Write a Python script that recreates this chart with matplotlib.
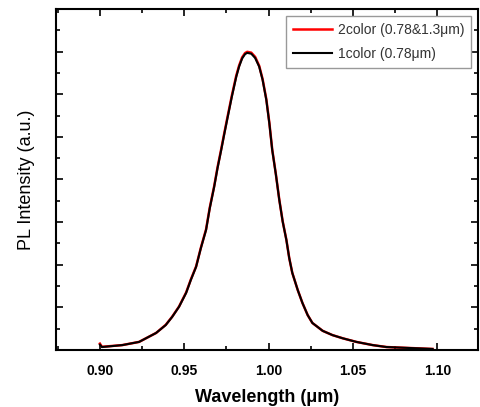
import matplotlib.pyplot as plt
from matplotlib.ticker import MultipleLocator, FormatStrFormatter

# values
wavelength = [0.9000, 0.9012, 0.9132, 0.9232, 0.9333, 0.9390, 0.9428, 0.9469,
              0.9511, 0.9539, 0.9570, 0.9598, 0.9629, 0.9651, 0.9677, 0.9697,
              0.9719, 0.9736, 0.9754, 0.9782, 0.9808, 0.9825, 0.9843, 0.9860,
              0.9873, 0.9897, 0.9920, 0.9944, 0.9964, 0.9986, 1.0004, 1.0021,
              1.0043, 1.0063, 1.0083, 1.0105, 1.0122, 1.0140, 1.0172, 1.0200,
              1.0231, 1.0259, 1.0320, 1.0378, 1.0439, 1.0520, 1.0617, 1.0698,
              1.0971]
one_color = [0.25, 0.14, 0.23, 0.38, 0.80, 1.17, 1.55, 2.03,
             2.68, 3.29, 3.90, 4.77, 5.63, 6.65, 7.65, 8.53,
             9.39, 10.09, 10.80, 11.89, 12.82, 13.30, 13.68, 13.88,
             13.94, 13.90, 13.70, 13.29, 12.68, 11.74, 10.64, 9.39,
             8.22, 7.04, 6.03, 5.16, 4.31, 3.62, 2.82, 2.21,
             1.64, 1.27, 0.90, 0.70, 0.55, 0.38, 0.23, 0.14,
             0.05]
two_color = [0.30, 0.15, 0.23, 0.38, 0.80, 1.18, 1.56, 2.04,
             2.70, 3.31, 3.92, 4.79, 5.66, 6.68, 7.68, 8.57,
             9.43, 10.13, 10.85, 11.94, 12.87, 13.35, 13.73, 13.93,
             13.99, 13.95, 13.75, 13.33, 12.71, 11.77, 10.66, 9.41,
             8.23, 7.05, 6.04, 5.17, 4.31, 3.62, 2.82, 2.21,
             1.64, 1.27, 0.90, 0.70, 0.55, 0.38, 0.23, 0.14,
             0.05]

plt.rcParams['font.family'] = ['Liberation Sans', 'DejaVu Sans']

fig = plt.figure(figsize=(4.8, 4.07), dpi=100)
ax = fig.add_axes([0.1167, 0.140, 0.879, 0.838])

ax.plot(wavelength, two_color, color='red', lw=1.8, label='2color (0.78&1.3μm)')
ax.plot(wavelength, one_color, color='black', lw=1.5, label='1color (0.78μm)')

ax.set_xlim(0.874, 1.124)
ax.set_ylim(0, 16)

ax.xaxis.set_major_locator(MultipleLocator(0.05))
ax.xaxis.set_minor_locator(MultipleLocator(0.025))
ax.xaxis.set_major_formatter(FormatStrFormatter('%.2f'))
ax.yaxis.set_major_locator(MultipleLocator(2))
ax.yaxis.set_minor_locator(MultipleLocator(1))
ax.tick_params(which='both', direction='in', top=True, right=True, width=1.2)
ax.tick_params(which='major', length=5)
ax.tick_params(which='minor', length=3)
ax.tick_params(axis='y', labelleft=False)
ax.tick_params(axis='x', labelsize=10, pad=10)
for lab in ax.get_xticklabels():
    lab.set_fontweight('bold')
for s in ax.spines.values():
    s.set_linewidth(1.5)

ax.set_xlabel('Wavelength (μm)', fontsize=13, fontweight='bold', labelpad=8)
ax.set_ylabel('PL Intensity (a.u.)', fontsize=13, labelpad=12)

leg = ax.legend(loc='upper right', fontsize=10, fancybox=False, framealpha=1,
                edgecolor='#999999', handlelength=2.8, handletextpad=0.4,
                borderaxespad=0.5, labelspacing=0.7, borderpad=0.5,
                labelcolor='#333333')
leg.get_frame().set_linewidth(1.0)

fig.savefig('out.png', dpi=100)
